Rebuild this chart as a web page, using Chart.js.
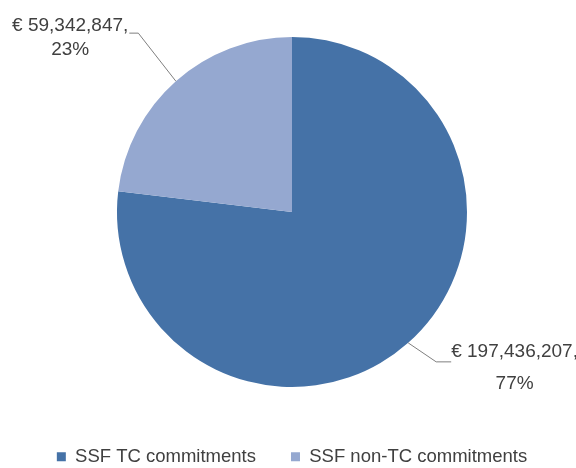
<!DOCTYPE html>
<html>
<head>
<meta charset="utf-8">
<script src="https://cdn.jsdelivr.net/npm/chart.js@4.4.1/dist/chart.umd.min.js"></script>
<style>
  html, body { margin: 0; padding: 0; background: #fff; }
  #wrap { width: 576px; height: 468px; position: relative; }
</style>
</head>
<body>
<div id="wrap"><canvas id="pie"></canvas></div>
<script>
// SSF commitments split
const categories = ['SSF TC commitments', 'SSF non-TC commitments'];
const amounts = [197436207, 59342847];

const sliceColors = ['#4572A7', '#95A8D0'];
const textColor = '#404040';

// leader line / label placement per slice (offsets from the slice edge)
const labelStyle = [
    {dx: 28, dy: 19, hx: 15, ty: [-10, 22]},
    {dx: -37.5, dy: -48, hx: -9, ty: [-7, 17]}
];

const calloutPlugin = {
    id: 'callouts',
    afterDatasetsDraw(chart) {
        const ctx = chart.ctx;
        const meta = chart.getDatasetMeta(0);
        const total = amounts.reduce((a, b) => a + b, 0);
        ctx.save();
        meta.data.forEach((arc, i) => {
            const p = arc.getProps(['x', 'y', 'startAngle', 'endAngle', 'outerRadius'], true);
            const mid = (p.startAngle + p.endAngle) / 2;
            const ex = p.x + Math.cos(mid) * p.outerRadius;
            const ey = p.y + Math.sin(mid) * p.outerRadius;
            const st = labelStyle[i];
            const bx = ex + st.dx, by = ey + st.dy;
            const cx = bx + st.hx;

            ctx.strokeStyle = '#7f7f7f';
            ctx.lineWidth = 1;
            ctx.beginPath();
            ctx.moveTo(ex, ey);
            ctx.lineTo(bx, by);
            ctx.lineTo(cx, by);
            ctx.stroke();

            const line1 = '€ ' + amounts[i].toLocaleString('en-US') + ',';
            const line2 = Math.round(amounts[i] / total * 100) + '%';
            ctx.font = '19px "Liberation Sans", Arial, sans-serif';
            ctx.fillStyle = textColor;
            ctx.textAlign = 'center';
            ctx.textBaseline = 'middle';
            const w = ctx.measureText(line1).width;
            const mx = st.hx < 0 ? cx - 1 - w / 2 : cx + w / 2;
            ctx.fillText(line1, mx, by + st.ty[0]);
            ctx.fillText(line2, mx, by + st.ty[1]);
        });
        ctx.restore();
    }
};

new Chart(document.getElementById('pie'), {
    type: 'pie',
    data: {
        labels: categories,
        datasets: [{
            data: amounts,
            backgroundColor: sliceColors,
            borderWidth: 0,
            radius: 175
        }]
    },
    options: {
        responsive: true,
        maintainAspectRatio: false,
        animation: false,
        layout: {padding: {top: 11.5, left: 8, right: 0, bottom: -8}},
        plugins: {
            legend: {
                position: 'bottom',
                labels: {
                    boxWidth: 9,
                    boxHeight: 9,
                    padding: 35,
                    color: textColor,
                    font: {family: '"Liberation Sans", Arial, sans-serif', size: 18.5}
                }
            },
            tooltip: {enabled: false}
        }
    },
    plugins: [calloutPlugin]
});
</script>
</body>
</html>
